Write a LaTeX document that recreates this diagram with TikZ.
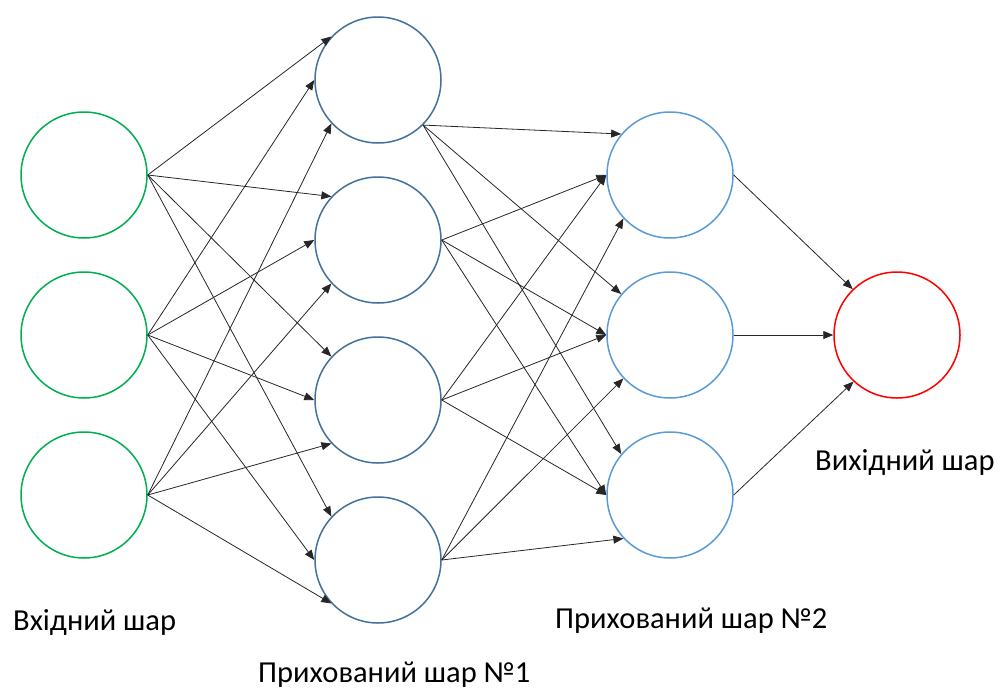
\documentclass[tikz,border=0pt]{standalone}
\usepackage{fontspec}
\setmainfont{Carlito}
\usetikzlibrary{arrows.meta}

\definecolor{ingreen}{RGB}{0,176,80}
\definecolor{hidblue}{RGB}{65,113,156}
\definecolor{hidlight}{RGB}{91,155,213}
\definecolor{outred}{RGB}{255,0,0}

\begin{document}
\begin{tikzpicture}[x=1pt, y=-1pt,
	neuron/.style={circle, draw, line width=1.5pt, minimum size=126pt, inner sep=0pt},
	link/.style={-{Triangle[length=10pt, width=8pt]}, line width=0.8pt, black!85},
	layer/.style={font=\fontsize{30.5}{36}\selectfont, anchor=base west, inner sep=0pt}]
		\useasboundingbox (0,0) rectangle (1001,691);
		
		% Input layer
		\node[neuron, ingreen] (x1) at (84,175) {};
		\node[neuron, ingreen] (x2) at (84,335) {};
		\node[neuron, ingreen] (x3) at (84,495) {};
		\node[layer] (inlabel) at (13,630) {Вхідний шар};
		
		% Hidden layer 1
		\node[neuron, hidblue] (h1) at (378,80) {};
		\node[neuron, hidblue] (h2) at (378,240) {};
		\node[neuron, hidblue] (h3) at (378,400) {};
		\node[neuron, hidblue] (h4) at (378,560) {};
		\node[layer] (hidlabelA) at (258,682) {Прихований шар №1};
		
		% Hidden layer 2
		\node[neuron, hidlight] (g1) at (670,175) {};
		\node[neuron, hidlight] (g2) at (670,335) {};
		\node[neuron, hidlight] (g3) at (670,495) {};
		\node[layer] (hidlabelB) at (555,628) {Прихований шар №2};
		
		% Output layer
		\node[neuron, outred] (y) at (897,335) {};
		\node[layer] (outlabel) at (815,470) {Вихідний шар};
		
		% Input -> hidden 1
		\draw[link] (x1.east) -- (h1.137);
		\draw[link] (x1.east) -- (h2.137);
		\draw[link] (x1.east) -- (h3.137);
		\draw[link] (x1.east) -- (h4.137);
		\draw[link] (x2.east) -- (h1.west);
		\draw[link] (x2.east) -- (h2.west);
		\draw[link] (x2.east) -- (h3.west);
		\draw[link] (x2.east) -- (h4.west);
		\draw[link] (x3.east) -- (h1.223);
		\draw[link] (x3.east) -- (h2.223);
		\draw[link] (x3.east) -- (h3.223);
		\draw[link] (x3.east) -- (h4.223);
		
		% Hidden 1 -> hidden 2
		\draw[link] (h1.315) -- (g1.140);
		\draw[link] (h1.315) -- (g2.140);
		\draw[link] (h1.315) -- (g3.140);
		\draw[link] (h2.east) -- (g1.west);
		\draw[link] (h2.east) -- (g2.west);
		\draw[link] (h2.east) -- (g3.west);
		\draw[link] (h3.east) -- (g1.west);
		\draw[link] (h3.east) -- (g2.west);
		\draw[link] (h3.east) -- (g3.west);
		\draw[link] (h4.east) -- (g1.223);
		\draw[link] (h4.east) -- (g2.223);
		\draw[link] (h4.east) -- (g3.223);
		
		% Hidden 2 -> output
		\draw[link] (g1.east) -- (y.134);
		\draw[link] (g2.east) -- (y.west);
		\draw[link] (g3.east) -- (y.227);
	\end{tikzpicture}
\end{document}
